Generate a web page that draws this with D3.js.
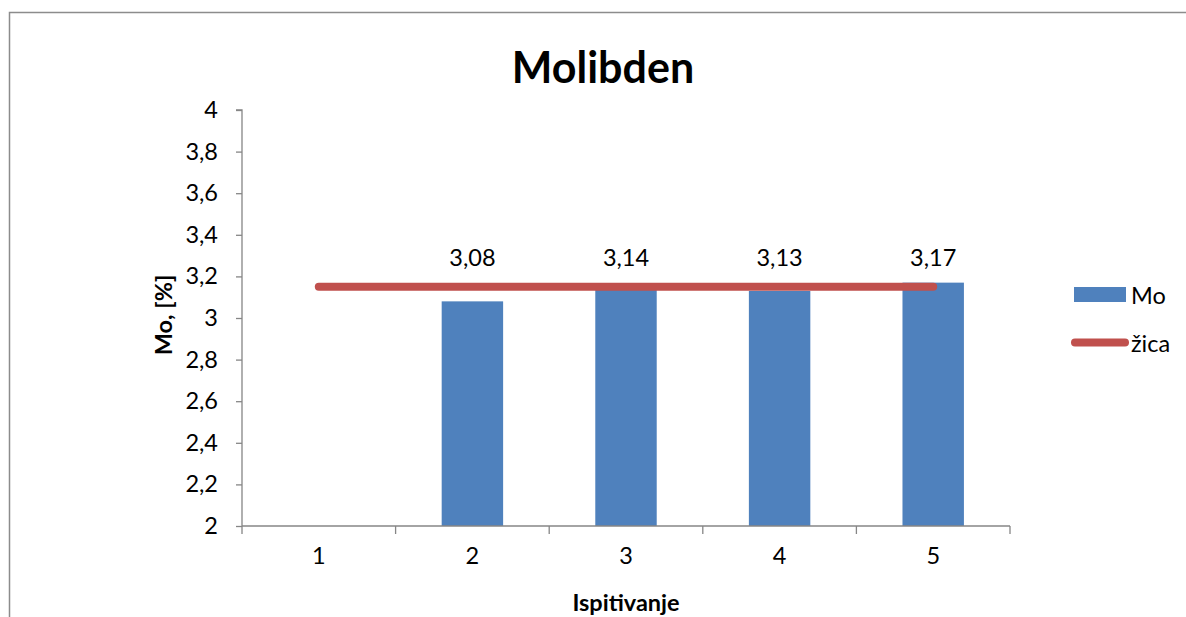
<!DOCTYPE html>
<html>
<head>
<meta charset="utf-8">
<script src="https://cdn.jsdelivr.net/npm/d3@7/dist/d3.min.js"></script>
<style>
  html, body { margin: 0; padding: 0; background: #fff; }
  svg { display: block; }
  text { font-family: Lato, "Open Sans", "DejaVu Sans", sans-serif; fill: #000; }
</style>
</head>
<body>
<svg id="chart" width="1186" height="617"></svg>
<script>
// ---- data ----
const categories = ["1", "2", "3", "4", "5"];
const moValues = [null, 3.08, 3.14, 3.13, 3.17];
const zicaValues = [3.15, 3.15, 3.15, 3.15, 3.15];
const yTicks = [2, 2.2, 2.4, 2.6, 2.8, 3, 3.2, 3.4, 3.6, 3.8, 4];
const titleText = "Molibden";
const yTitle = "Mo, [%]";
const xTitle = "Ispitivanje";
const seriesNames = ["Mo", "žica"];

const svg = d3.select("#chart");
const blue = "#4f81bd", red = "#c0504d", axisCol = "#868686";
const FS = 23.5;

// outer border
svg.append("rect").attr("x", 9.5).attr("y", 12.5).attr("width", 1300).attr("height", 700)
  .attr("fill", "none").attr("stroke", "#8c8c8c").attr("stroke-width", 1.5);

const plot = { left: 242, right: 1010, top: 110, bottom: 526 };

const x = d3.scaleBand().domain(categories).range([plot.left, plot.right]).paddingInner(0).paddingOuter(0);
const y = d3.scaleLinear().domain([2, 4]).range([plot.bottom, plot.top]);
const fmt = v => String(Math.round(v * 100) / 100).replace(".", ",");

// bars
const barW = x.bandwidth() / 2.5;
svg.append("g").selectAll("rect")
  .data(categories.map((c, i) => ({ c, v: moValues[i] })).filter(d => d.v != null))
  .join("rect")
  .attr("x", d => x(d.c) + (x.bandwidth() - barW) / 2)
  .attr("width", barW)
  .attr("y", d => y(d.v))
  .attr("height", d => y(2) - y(d.v))
  .attr("fill", blue);

// y axis
const yAxis = svg.append("g").attr("transform", `translate(${plot.left},0)`)
  .call(d3.axisLeft(y).tickValues(yTicks).tickSize(6).tickPadding(18).tickFormat(fmt));
yAxis.selectAll("path, line").attr("stroke", axisCol).attr("stroke-width", 1.3);
yAxis.select(".domain").attr("d", `M-6,${plot.top}H0V${plot.bottom}`);
yAxis.selectAll("text").attr("font-size", FS).attr("font-family", "Lato, 'Open Sans', sans-serif");

// x axis
const xAxis = svg.append("g").attr("transform", `translate(0,${plot.bottom})`)
  .call(d3.axisBottom(x).tickSize(0).tickPadding(21));
xAxis.selectAll("path").attr("stroke", axisCol).attr("stroke-width", 1.3)
  .attr("d", `M${plot.left},0H${plot.right}`);
xAxis.selectAll("text").attr("font-size", FS).attr("font-family", "Lato, 'Open Sans', sans-serif");
const edges = categories.map(c => x(c)).concat([x(categories[categories.length - 1]) + x.bandwidth()]);
xAxis.append("g").selectAll("line").data(edges).join("line")
  .attr("x1", d => d).attr("x2", d => d).attr("y1", 0).attr("y2", 8)
  .attr("stroke", axisCol).attr("stroke-width", 1.3);

// žica line
const line = d3.line().x((d, i) => x(categories[i]) + x.bandwidth() / 2).y(d => y(d));
svg.append("path").datum(zicaValues).attr("d", line)
  .attr("fill", "none").attr("stroke", red).attr("stroke-width", 8).attr("stroke-linecap", "round");

// data labels
svg.append("g").selectAll("text")
  .data(categories.map((c, i) => ({ c, v: moValues[i], z: zicaValues[i] })).filter(d => d.v != null))
  .join("text")
  .attr("x", d => x(d.c) + x.bandwidth() / 2)
  .attr("y", d => y(d.z) - 30)
  .attr("text-anchor", "middle").attr("dominant-baseline", "central")
  .attr("font-size", FS)
  .text(d => fmt(d.v));

// title
svg.append("text").attr("x", 603).attr("y", 66).attr("text-anchor", "middle")
  .attr("dominant-baseline", "central").attr("font-size", 43).attr("font-weight", "bold")
  .text(titleText);

// axis titles
svg.append("text").attr("transform", `translate(163,${(plot.top + plot.bottom) / 2 - 3}) rotate(-90)`)
  .attr("text-anchor", "middle").attr("dominant-baseline", "central")
  .attr("font-size", FS).attr("font-weight", "bold").text(yTitle);
svg.append("text").attr("x", (plot.left + plot.right) / 2).attr("y", 602)
  .attr("text-anchor", "middle").attr("dominant-baseline", "central")
  .attr("font-size", FS).attr("font-weight", "bold").text(xTitle);

// legend
const lg = svg.append("g");
lg.append("rect").attr("x", 1074).attr("y", 287).attr("width", 52).attr("height", 15).attr("fill", blue);
lg.append("text").attr("x", 1131).attr("y", 295).attr("dominant-baseline", "central")
  .attr("font-size", FS).text(seriesNames[0]);
lg.append("line").attr("x1", 1075).attr("x2", 1125).attr("y1", 342.5).attr("y2", 342.5)
  .attr("stroke", red).attr("stroke-width", 8).attr("stroke-linecap", "round");
lg.append("text").attr("x", 1131).attr("y", 343).attr("dominant-baseline", "central")
  .attr("font-size", FS).text(seriesNames[1]);
</script>
</body>
</html>
